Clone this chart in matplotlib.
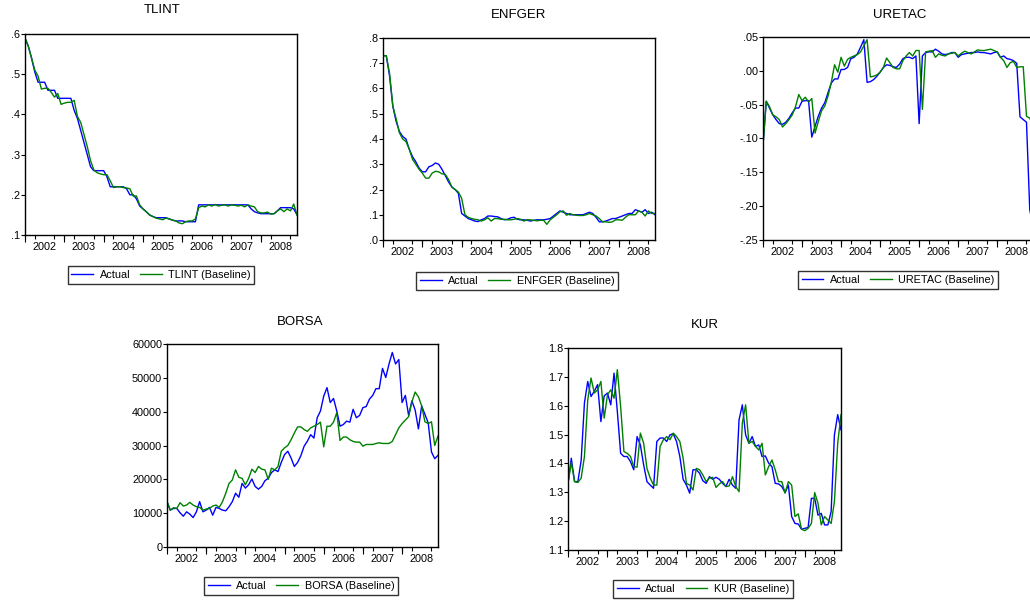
import numpy as np
import matplotlib
matplotlib.use("Agg")
import matplotlib.pyplot as plt
from matplotlib.ticker import FuncFormatter, MultipleLocator

plt.rcParams['font.family'] = ['Liberation Sans', 'DejaVu Sans']

# monthly sample 2002M01 - 2008M12
n_obs = 84
start_year = 2002
years = list(range(2002, 2009))

tlint_actual = [.590, .570, .540, .505, .480, .480, .480, .460, .460, .460,
                .440, .440, .440, .440, .440, .410, .390, .360, .330, .300,
                .270, .260, .260, .260, .260, .245, .220, .220, .220, .220,
                .220, .215, .200, .200, .190, .172, .165, .158, .150, .146,
                .143, .143, .143, .143, .140, .137, .135, .135, .135, .133,
                .133, .133, .133, .175, .175, .175, .175, .175, .175, .175,
                .175, .175, .175, .175, .175, .175, .175, .175, .175, .165,
                .158, .155, .153, .153, .153, .153, .153, .160, .168, .168,
                .168, .168, .165, .150]
tlint_base = [.590, .570, .540, .510, .495, .463, .465, .465, .455, .443,
              .452, .425, .428, .430, .430, .435, .395, .380, .350, .320,
              .285, .262, .255, .252, .250, .250, .235, .218, .220, .220,
              .218, .217, .215, .197, .197, .175, .165, .158, .150, .146,
              .142, .140, .138, .142, .140, .137, .135, .130, .128, .133,
              .135, .135, .140, .168, .172, .170, .175, .172, .176, .172,
              .174, .175, .172, .175, .174, .172, .174, .170, .175, .172,
              .170, .158, .155, .155, .157, .152, .153, .160, .165, .158,
              .165, .160, .177, .150]

enfger_actual = [.730, .730, .650, .530, .470, .430, .410, .400, .360, .330,
                 .310, .285, .270, .270, .290, .295, .305, .300, .280, .255,
                 .230, .210, .200, .185, .105, .095, .085, .080, .075, .073,
                 .080, .085, .095, .095, .093, .092, .085, .080, .082, .088,
                 .090, .082, .080, .080, .078, .075, .078, .080, .080, .080,
                 .082, .085, .095, .105, .115, .110, .105, .100, .100, .100,
                 .100, .100, .105, .110, .105, .090, .072, .072, .075, .080,
                 .085, .085, .090, .095, .100, .105, .105, .120, .115, .110,
                 .120, .105, .110, .100]
enfger_base = [.730, .730, .660, .530, .480, .425, .400, .390, .360, .320,
               .300, .280, .265, .245, .245, .265, .272, .270, .262, .260,
               .240, .210, .200, .190, .165, .100, .090, .085, .082, .080,
               .075, .080, .088, .075, .085, .085, .082, .082, .080, .080,
               .082, .085, .082, .075, .080, .080, .078, .076, .078, .078,
               .062, .080, .090, .100, .112, .115, .098, .105, .100, .098,
               .097, .097, .100, .105, .100, .095, .085, .072, .072, .070,
               .072, .080, .080, .078, .090, .100, .100, .100, .115, .110,
               .095, .115, .105, .105]

uretac_actual = [-.110, -.045, -.055, -.065, -.072, -.078, -.079, -.076, -.070, -.062,
                 -.055, -.055, -.045, -.044, -.044, -.098, -.082, -.067, -.055, -.047,
                 -.032, -.018, -.012, -.012, .002, .002, .005, .018, .020, .025,
                 .035, .046, -.017, -.016, -.013, -.008, -.002, .005, .009, .008,
                 .006, .005, .010, .018, .020, .020, .018, .022, -.078, .022,
                 .027, .028, .028, .032, .029, .025, .024, .025, .027, .027,
                 .020, .024, .025, .026, .027, .027, .028, .027, .027, .026,
                 .025, .027, .028, .020, .022, .018, .017, .015, .011, -.068,
                 -.072, -.076, -.205, -.230]
uretac_base = [-.110, -.045, -.053, -.065, -.068, -.072, -.083, -.078, -.072, -.065,
               -.053, -.035, -.044, -.039, -.046, -.041, -.092, -.075, -.059, -.052,
               -.037, -.017, .009, -.002, .020, .007, .017, .020, .022, .024,
               .028, .037, .046, -.009, -.008, -.006, -.002, .005, .019, .012,
               .005, .003, .003, .015, .022, .027, .022, .030, .030, -.057,
               .028, .029, .030, .020, .025, .023, .022, .025, .026, .027,
               .022, .026, .029, .027, .025, .028, .031, .030, .030, .031,
               .032, .030, .028, .020, .015, .005, .012, .014, .005, .006,
               .006, -.067, -.070, -.082]

borsa_actual = [13400, 10900, 11400, 11400, 10100, 9100, 10400, 9700, 8700, 10400,
                13400, 10400, 10900, 11700, 9400, 11700, 11400, 10900, 10700, 11900,
                13400, 15900, 14700, 18800, 17400, 18400, 20100, 17900, 17100, 17900,
                19600, 20300, 22000, 22800, 22300, 25000, 27300, 28300, 26300, 23800,
                25000, 27000, 29800, 31300, 33200, 32200, 38200, 40200, 44600, 47100,
                42700, 43900, 40200, 35700, 36200, 37200, 36900, 40700, 38200, 38900,
                41200, 41500, 43700, 44800, 46800, 46800, 52800, 50100, 54100, 57500,
                54100, 55400, 42700, 44800, 38900, 43200, 40500, 34900, 41700, 39200,
                36700, 28100, 26100, 27100]
borsa_base = [13400, 10900, 11600, 11400, 13100, 12100, 12400, 13200, 12400, 11900,
              11700, 10900, 11200, 11400, 12100, 12400, 11700, 13400, 15900, 18800,
              19800, 22800, 20600, 20300, 18400, 20300, 23000, 22000, 23800, 23000,
              22800, 20000, 23300, 22800, 23800, 28300, 29300, 30000, 31700, 33700,
              35500, 35500, 34700, 34200, 35200, 35700, 36200, 36900, 29600, 35700,
              35700, 36900, 39700, 31500, 32500, 32500, 31700, 31200, 31000, 31000,
              29800, 30300, 30300, 30300, 30600, 30800, 30600, 30600, 30600, 31200,
              33200, 35200, 36500, 37500, 38500, 42900, 45800, 44400, 41700, 37000,
              36500, 37000, 30000, 32800]

kur_actual = [1.331, 1.418, 1.337, 1.337, 1.410, 1.610, 1.684, 1.632, 1.650, 1.673,
              1.545, 1.634, 1.644, 1.603, 1.713, 1.580, 1.435, 1.424, 1.424, 1.406,
              1.378, 1.493, 1.464, 1.395, 1.337, 1.325, 1.314, 1.476, 1.488, 1.488,
              1.476, 1.499, 1.503, 1.476, 1.424, 1.345, 1.325, 1.297, 1.378, 1.378,
              1.366, 1.340, 1.331, 1.354, 1.345, 1.352, 1.345, 1.331, 1.320, 1.345,
              1.325, 1.314, 1.551, 1.603, 1.499, 1.470, 1.493, 1.459, 1.464, 1.424,
              1.426, 1.401, 1.389, 1.331, 1.329, 1.320, 1.299, 1.325, 1.216, 1.192,
              1.190, 1.172, 1.175, 1.178, 1.279, 1.279, 1.221, 1.227, 1.187, 1.187,
              1.233, 1.499, 1.569, 1.516]
kur_base = [1.331, 1.403, 1.337, 1.334, 1.349, 1.424, 1.620, 1.696, 1.644, 1.655,
            1.684, 1.557, 1.638, 1.655, 1.626, 1.725, 1.597, 1.441, 1.435, 1.424,
            1.389, 1.387, 1.505, 1.470, 1.383, 1.349, 1.325, 1.325, 1.459, 1.482,
            1.493, 1.482, 1.505, 1.493, 1.476, 1.418, 1.331, 1.325, 1.308, 1.383,
            1.378, 1.360, 1.337, 1.349, 1.352, 1.317, 1.329, 1.337, 1.320, 1.322,
            1.354, 1.320, 1.302, 1.540, 1.603, 1.470, 1.476, 1.459, 1.447, 1.470,
            1.360, 1.389, 1.412, 1.378, 1.337, 1.337, 1.297, 1.337, 1.325, 1.216,
            1.225, 1.172, 1.167, 1.175, 1.192, 1.299, 1.262, 1.187, 1.216, 1.204,
            1.192, 1.268, 1.470, 1.569]

t = start_year + np.arange(n_obs) / 12.0

W, H = 1030, 603
fig = plt.figure(figsize=(W / 100, H / 100), dpi=100)

BLUE = '#0000ff'
GREEN = '#008000'
FS = 7.8


def dot_fmt(nd):
    # EViews style labels: .6, -.05
    def f(v, pos):
        s = f"{v:.{nd}f}"
        return s.replace("0.", ".", 1) if abs(v) < 1 else s
    return FuncFormatter(f)


def panel(name, actual, base, box, ylim, ystep, fmt, title_xy, leg_xy):
    l, r, top, bot = box
    ax = fig.add_axes([l / W, 1 - bot / H, (r - l) / W, (bot - top) / H])
    ax.plot(t, actual, color=BLUE, lw=1.0, label='Actual')
    ax.plot(t, base, color=GREEN, lw=1.0, label=f'{name} (Baseline)')
    ax.set_xlim(t[0], t[-1])
    ax.set_ylim(*ylim)
    ax.yaxis.set_major_locator(MultipleLocator(ystep))
    ax.yaxis.set_major_formatter(fmt)
    ax.tick_params(axis='y', direction='out', length=3, width=0.8, pad=0.5, labelsize=FS)
    # year labels centred in each year, quarter ticks
    ax.set_xticks([y + 0.5 for y in years])
    ax.set_xticklabels([str(y) for y in years])
    ax.set_xticks(np.arange(start_year, t[-1] + 0.01, 0.25), minor=True)
    ax.tick_params(axis='x', which='major', length=0, pad=5, labelsize=FS)
    ax.tick_params(axis='x', which='minor', direction='out', length=3, width=0.8)
    sec = ax.secondary_xaxis('bottom')
    sec.set_xticks(years)
    sec.set_xticklabels([])
    sec.tick_params(direction='out', length=5, width=0.8)
    sec.spines['bottom'].set_visible(False)
    for sp in ax.spines.values():
        sp.set_linewidth(1.0)
    fig.text(title_xy[0] / W, 1 - title_xy[1] / H, name, ha='center', va='center', fontsize=9.5)
    leg = ax.legend(loc='center', bbox_to_anchor=(leg_xy[0] / W, 1 - leg_xy[1] / H),
                    bbox_transform=fig.transFigure, ncol=2, fontsize=FS, frameon=True,
                    fancybox=False, edgecolor='black', handlelength=2.0, handletextpad=0.6,
                    columnspacing=0.9, borderpad=0.35, borderaxespad=0)
    leg.get_frame().set_linewidth(1.0)
    return ax


panel('TLINT', tlint_actual, tlint_base, (25, 297, 34, 235), (.1, .6), .1, dot_fmt(1),
      (162, 10), (161, 275))
panel('ENFGER', enfger_actual, enfger_base, (383, 655, 38, 240), (0, .8), .1, dot_fmt(1),
      (519, 15), (517, 281))
panel('URETAC', uretac_actual, uretac_base, (763, 1033, 37, 240), (-.25, .05), .05, dot_fmt(2),
      (900, 15), (898, 280))
panel('BORSA', borsa_actual, borsa_base, (167, 438, 344, 547), (0, 60000), 10000,
      FuncFormatter(lambda v, p: f"{v:.0f}"), (300, 322), (301, 586))
panel('KUR', kur_actual, kur_base, (568, 841, 348, 550), (1.1, 1.8), .1,
      FuncFormatter(lambda v, p: f"{v:.1f}"), (705, 325), (703, 589))

fig.savefig('out.png', dpi=100)
